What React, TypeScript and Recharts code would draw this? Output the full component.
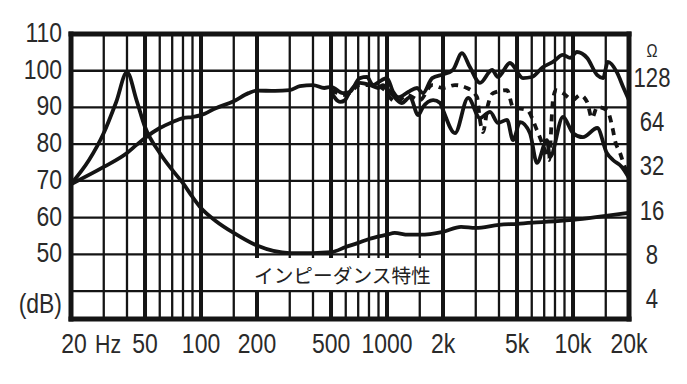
import { LineChart, Line, XAxis, YAxis, ReferenceLine } from 'recharts'

// x axis (Hz)
const freqTicks = [20, 50, 100, 200, 500, 1000, 2000, 5000, 10000, 20000]
const freqLabels = ['20', '50', '100', '200', '500', '1000', '2k', '5k', '10k', '20k']
const majorFreqs = [50, 100, 200, 500, 1000, 2000, 5000, 10000]
const minorFreqs = [30, 40, 60, 70, 80, 90, 150, 300, 400, 600, 700, 800, 900, 1500, 3000, 4000, 6000, 7000, 8000, 9000, 15000]

// left axis (dB) and right axis (ohm)
const dbTicks = [40, 50, 60, 70, 80, 90, 100, 110]
const dbLabels = ['(dB)', '50', '60', '70', '80', '90', '100', '110']
const ohmTicks = [4, 8, 16, 32, 64, 128, 181]
const ohmLabels = ['4', '8', '16', '32', '64', '128', 'Ω']

// impedance curve
const impFreq = [20, 25, 30, 35, 40, 45, 50, 60, 70, 80, 90, 100, 120, 150, 200, 300, 400, 500, 600, 700, 800, 1000, 1100, 1300, 1500, 2000, 2500, 3000, 4000, 5000, 7000, 10000, 15000, 20000]
const impOhm = [23.9, 34.8, 53.2, 86.5, 138, 89, 58.4, 38.9, 29.8, 24.2, 19.5, 16.4, 13.4, 11.1, 9.1, 8.1, 8.1, 8.2, 8.9, 9.5, 10.1, 10.8, 11.1, 10.8, 10.8, 11.3, 12.2, 12.0, 12.6, 12.8, 13.2, 13.6, 14.5, 15.2]

// on-axis response
const onFreq = [20, 30, 40, 45, 50, 60, 70, 80, 90, 100, 120, 150, 180, 200, 250, 300, 340, 400, 460, 500, 580, 630, 715, 780, 840, 940, 1000, 1080, 1150, 1300, 1450, 1560, 1750, 2000, 2260, 2530, 2790, 3160, 3670, 3950, 4580, 5380, 6010, 6900, 7800, 8830, 9640, 10500, 11900, 13500, 14500, 15400, 17200, 18600, 20000]
const onDb = [69.1, 73.8, 77.6, 79.8, 81.7, 84.4, 86.0, 87.1, 87.4, 87.9, 89.8, 91.7, 93.9, 94.6, 94.5, 94.7, 95.8, 96.1, 95.3, 95.6, 93.9, 94.2, 98.0, 98.3, 96.1, 97.5, 98.0, 94.2, 92.8, 94.2, 95.3, 93.9, 98.0, 99.0, 100.2, 104.8, 101.0, 96.7, 100.2, 98.3, 102.1, 98.0, 98.3, 101.0, 102.4, 104.3, 103.5, 105.1, 103.5, 98.8, 98.0, 102.4, 99.6, 95.6, 92.0]

// dashed (off-axis) response
const dashFreq = [500, 600, 715, 840, 975, 1040, 1130, 1280, 1500, 1750, 2000, 2320, 2690, 3050, 3160, 3280, 3490, 3710, 4420, 4760, 5660, 6400, 7060, 7430, 7800, 8100, 8830, 10000, 10900, 11900, 12640, 13500, 15200, 16400, 16800, 17900, 19000, 20000]
const dashDb = [94.7, 93.4, 96.1, 96.1, 94.7, 92.6, 91.5, 93.4, 92.0, 96.1, 95.3, 96.1, 95.3, 92.8, 86.6, 83.3, 90.7, 93.9, 94.7, 90.1, 89.3, 83.8, 78.4, 75.7, 92.0, 94.7, 93.9, 92.0, 93.4, 91.5, 87.1, 90.1, 89.3, 83.8, 81.1, 77.6, 73.8, 71.6]

// lower solid (off-axis) response
const lowFreq = [500, 560, 595, 630, 715, 810, 895, 950, 1040, 1200, 1330, 1470, 1560, 1770, 1930, 2000, 2320, 2730, 3160, 3580, 3950, 4420, 4760, 5190, 5870, 6400, 7240, 7520, 8830, 10000, 11300, 13500, 15200, 16400, 18300, 20000]
const lowDb = [94.2, 91.5, 92.0, 94.2, 96.7, 96.1, 95.3, 96.1, 94.2, 91.2, 92.8, 87.9, 90.1, 92.0, 91.2, 89.3, 83.0, 92.6, 87.1, 88.8, 85.8, 86.6, 81.1, 86.0, 83.0, 74.9, 81.1, 76.5, 87.4, 83.0, 81.9, 84.4, 77.6, 75.7, 73.8, 70.8]

const toPoints = (fs: number[], vs: number[]) => fs.map((f, i) => ({ f, v: vs[i] }))

const INK = '#141414'
const TEXT = '#2a2a2a'
const FONT = '"Liberation Sans", Arial, sans-serif'
const DB_MIN = 32.4
const SQUEEZE = 0.82

// condensed label text
function Label({ x, y, anchor, size = 28, children }: any) {
  return (
    <text
      transform={`translate(${x}, ${y}) scale(${SQUEEZE}, 1)`}
      textAnchor={anchor}
      fontSize={size}
      fontFamily={FONT}
      fill={TEXT}
    >
      {children}
    </text>
  )
}

function FreqTick({ x, y, payload }: any) {
  const label = freqLabels[freqTicks.indexOf(payload.value)]
  if (payload.value === 20) {
    return (
      <g>
        <Label x={x + 3} y={y + 34} anchor="middle">{label}</Label>
        <Label x={x + 24} y={y + 34} anchor="start" size={26}>Hz</Label>
      </g>
    )
  }
  return <Label x={x} y={y + 34} anchor="middle">{label}</Label>
}

function DbTick({ x, y, payload }: any) {
  const label = dbLabels[dbTicks.indexOf(payload.value)]
  const shift = payload.value === 40 ? 22 : 8
  return <Label x={x - 9} y={y + shift} anchor="end">{label}</Label>
}

function OhmTick({ x, y, payload }: any) {
  const label = ohmLabels[ohmTicks.indexOf(payload.value)]
  if (payload.value === 181) {
    return <Label x={x + 23} y={y + 2} anchor="middle" size={18}>{label}</Label>
  }
  return <Label x={x + 23} y={y + 10} anchor="middle" size={27}>{label}</Label>
}

export default function App() {
  return (
    <div style={{ position: 'absolute', left: 0, top: 0, width: 687, height: 384, background: '#fff' }}>
      <LineChart width={687} height={384} margin={{ top: 34, right: 0, left: 0, bottom: 15 }}>
        <XAxis
          dataKey="f"
          type="number"
          scale="log"
          domain={[20, 20000]}
          allowDataOverflow
          ticks={freqTicks}
          interval={0}
          tick={<FreqTick />}
          axisLine={false}
          tickLine={false}
          tickSize={0}
          tickMargin={0}
          height={50}
        />
        <YAxis
          yAxisId="db"
          type="number"
          domain={[DB_MIN, 110]}
          allowDataOverflow
          ticks={dbTicks}
          interval={0}
          tick={<DbTick />}
          axisLine={false}
          tickLine={false}
          tickSize={0}
          tickMargin={0}
          width={71}
        />
        <YAxis
          yAxisId="ohm"
          orientation="right"
          type="number"
          scale="log"
          domain={[2.88, 251]}
          allowDataOverflow
          ticks={ohmTicks}
          interval={0}
          tick={<OhmTick />}
          axisLine={false}
          tickLine={false}
          tickSize={0}
          tickMargin={0}
          width={58}
        />

        {dbTicks.slice(0, -1).map((v) => (
          <ReferenceLine key={`h-${v}`} yAxisId="db" y={v} stroke={INK} strokeWidth={2.3} />
        ))}
        {minorFreqs.map((f) => (
          <ReferenceLine key={`v-${f}`} yAxisId="db" x={f} stroke={INK} strokeWidth={2.3} />
        ))}
        {majorFreqs.map((f) => (
          <ReferenceLine key={`V-${f}`} yAxisId="db" x={f} stroke={INK} strokeWidth={4} />
        ))}
        {/* frame */}
        <ReferenceLine yAxisId="db" y={110} stroke={INK} strokeWidth={5} strokeLinecap="square" />
        <ReferenceLine yAxisId="db" y={DB_MIN} stroke={INK} strokeWidth={5} strokeLinecap="square" />
        <ReferenceLine yAxisId="db" x={20} stroke={INK} strokeWidth={5} strokeLinecap="square" />
        <ReferenceLine yAxisId="db" x={20000} stroke={INK} strokeWidth={5} strokeLinecap="square" />

        <Line data={toPoints(impFreq, impOhm)} yAxisId="ohm" dataKey="v" type="monotone" stroke={INK} strokeWidth={3.8} strokeLinejoin="round" dot={false} isAnimationActive={false} />
        <Line data={toPoints(lowFreq, lowDb)} yAxisId="db" dataKey="v" type="monotone" stroke={INK} strokeWidth={3.8} strokeLinejoin="round" dot={false} isAnimationActive={false} />
        <Line data={toPoints(dashFreq, dashDb)} yAxisId="db" dataKey="v" type="monotone" stroke={INK} strokeWidth={3.8} strokeDasharray="7 6" dot={false} isAnimationActive={false} />
        <Line data={toPoints(onFreq, onDb)} yAxisId="db" dataKey="v" type="monotone" stroke={INK} strokeWidth={3.8} strokeLinejoin="round" dot={false} isAnimationActive={false} />
      </LineChart>
      <div
        style={{
          position: 'absolute',
          left: 237,
          top: 258,
          width: 201,
          height: 32,
          paddingLeft: 17,
          boxSizing: 'border-box',
          background: '#fff',
          display: 'flex',
          alignItems: 'center',
          fontFamily: '"Noto Sans CJK JP", sans-serif',
          fontSize: 19.7,
          color: '#222',
          whiteSpace: 'nowrap',
        }}
      >
        インピーダンス特性
      </div>
    </div>
  )
}
